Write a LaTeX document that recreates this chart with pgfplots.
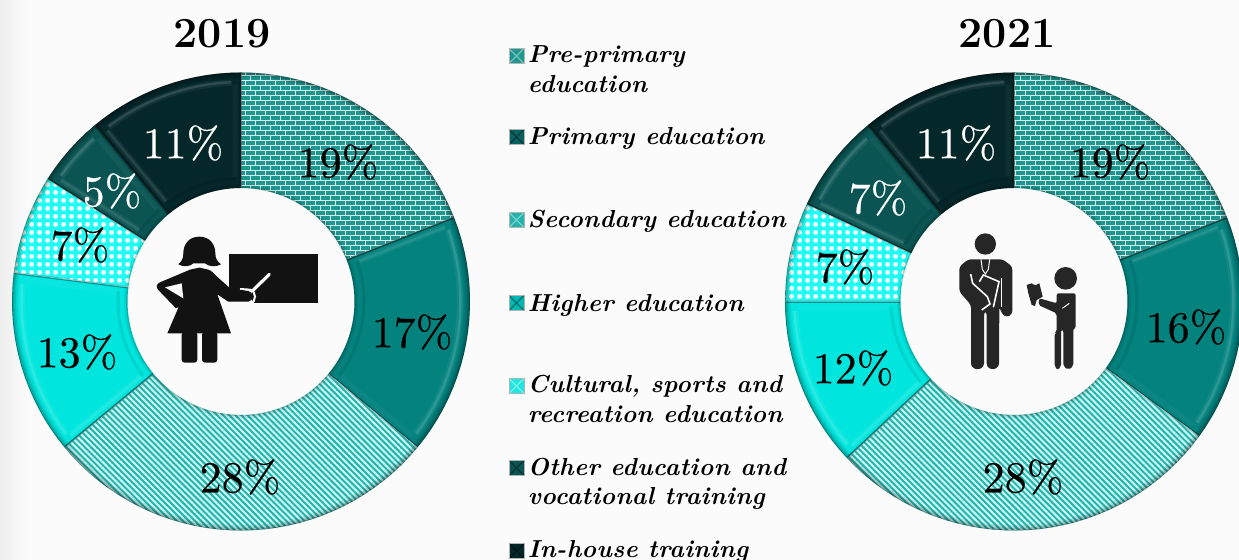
\documentclass[border=0pt]{standalone}
\usepackage{fontspec}
\setmainfont{Latin Modern Roman}
\newfontface\pctfont{lmroman10-regular}[Extension=.otf,FakeBold=0.35]
\usepackage{pgfplots}
\usepackage{pgfplotstable}
\pgfplotsset{compat=1.18}
\usetikzlibrary{patterns,patterns.meta}

\definecolor{bgc}{HTML}{FBFBFB}
\definecolor{cA}{HTML}{1F9690}
\definecolor{cB}{HTML}{03827E}
\definecolor{cC}{HTML}{22B3AC}
\definecolor{cD}{HTML}{00E6DE}
\definecolor{cE}{HTML}{1FFFF6}
\definecolor{cF}{HTML}{0A5553}
\definecolor{cG}{HTML}{04272A}
\definecolor{mort}{HTML}{D0F2EF}
\definecolor{strp}{HTML}{C8F7F4}

\pgfdeclarepatternformonly{brk}{\pgfqpoint{-0.3pt}{-0.3pt}}{\pgfqpoint{5.3pt}{5.3pt}}{\pgfqpoint{5pt}{5pt}}{%
  \pgfsetlinewidth{0.48pt}%
  \pgfpathmoveto{\pgfqpoint{0pt}{0pt}}\pgfpathlineto{\pgfqpoint{5pt}{0pt}}%
  \pgfpathmoveto{\pgfqpoint{0pt}{2.5pt}}\pgfpathlineto{\pgfqpoint{5pt}{2.5pt}}%
  \pgfpathmoveto{\pgfqpoint{0pt}{0pt}}\pgfpathlineto{\pgfqpoint{0pt}{2.5pt}}%
  \pgfpathmoveto{\pgfqpoint{2.5pt}{2.5pt}}\pgfpathlineto{\pgfqpoint{2.5pt}{5pt}}%
  \pgfusepath{stroke}}

\pgfplotsset{
  base0/.style={fill=cA,draw=none},
  base1/.style={fill=cB,draw=none},
  base2/.style={fill=cC,draw=none},
  base3/.style={fill=cD,draw=none},
  base4/.style={fill=cE,draw=none},
  base5/.style={fill=cF,draw=none},
  base6/.style={fill=cG,draw=none},
  pat0/.style={draw=none,pattern=brk,pattern color=mort},
  pat2/.style={draw=none,pattern={Lines[angle=-45,distance=2.15pt,line width=1.05pt]},pattern color=strp},
  pat4/.style={draw=none,pattern={Dots[radius=1.35pt,distance=4pt]},pattern color=white},
}

% shares per year, in per cent, clockwise from twelve o'clock
\pgfplotstableread{
share
19
17
28
13
7
5
11
}\tableA
\pgfplotstableread{
share
19
16
28
12
7
7
11
}\tableB

\def\Rout{229}
\def\Rin{113.5}

\newcommand\arcpts[3]{%
  \pgfmathsetmacro\stepN{int(max(3,ceil(abs(#2-#1)/3)))}%
  \foreach \k in {0,...,\stepN}{%
    \pgfmathsetmacro\ang{#1+(#2-#1)*\k/\stepN}%
    \xdef\coords{\coords (\ang,#3)}}}
\newcommand\ringfill[3]{% a1 a2 options
  \gdef\coords{}\arcpts{#1}{#2}{\Rout}\arcpts{#2}{#1}{\Rin}%
  \edef\tmp{\noexpand\addplot[data cs=polar,#3] coordinates {\coords} --cycle;}\tmp}
\newcommand\arcline[4]{% a1 a2 r options
  \gdef\coords{}\arcpts{#1}{#2}{#3}%
  \edef\tmp{\noexpand\addplot[data cs=polar,#4] coordinates {\coords};}\tmp}
\newcommand\radial[5]{% a d r1 r2 options; d is the signed inset in px
  \pgfmathsetmacro\aa{#1+deg(#2/#3)}\pgfmathsetmacro\ab{#1+deg(#2/#4)}%
  \edef\tmp{\noexpand\addplot[data cs=polar,#5] coordinates {(\aa,#3) (\ab,#4)};}\tmp}

\newcommand\rimdark[2]{%
  \arcline{#1}{#2}{228.6}{draw=black,opacity=.42,line width=.45pt}%
  \arcline{#1}{#2}{227.4}{draw=black,opacity=.24,line width=.7pt}%
  \arcline{#1}{#2}{226}{draw=black,opacity=.14,line width=.8pt}%
  \arcline{#1}{#2}{224.4}{draw=black,opacity=.07,line width=1pt}%
  \arcline{#1}{#2}{114.2}{draw=black,opacity=.2,line width=.7pt}%
  \arcline{#1}{#2}{116}{draw=black,opacity=.08,line width=1pt}}
\newcommand\bevelsolid[2]{%
  \pgfmathsetmacro\hA{#1-2.5}\pgfmathsetmacro\hB{#2+2.5}%
  \arcline{\hA}{\hB}{219}{draw=white,opacity=.06,line width=3pt}%
  \arcline{\hA}{\hB}{219.5}{draw=white,opacity=.12,line width=1.2pt}%
  \radial{#1}{-6}{125}{217}{draw=white,opacity=.05,line width=3pt}%
  \radial{#1}{-6}{125}{217}{draw=white,opacity=.09,line width=1.2pt}%
  \radial{#2}{6}{125}{217}{draw=white,opacity=.04,line width=2.5pt}%
  \radial{#1}{-.6}{114}{228}{draw=black,opacity=.45,line width=.7pt}%
  \radial{#2}{.6}{114}{228}{draw=black,opacity=.35,line width=.7pt}%
  \arcline{\hA}{\hB}{123}{draw=black,opacity=.08,line width=1.5pt}}

\newcommand\drawsegment[3]{% index a1 a2
  \ringfill{#2}{#3}{base#1}%
  \ifodd#1\relax\else\ifnum#1<6\relax\ringfill{#2}{#3}{pat#1}\fi\fi
  \rimdark{#2}{#3}%
  \ifodd#1\relax\bevelsolid{#2}{#3}\else
    \ifnum#1=6\relax\bevelsolid{#2}{#3}\else
      \radial{#2}{-.6}{114}{228}{draw=gray,opacity=.4,line width=.6pt}%
      \radial{#3}{.6}{114}{228}{draw=gray,opacity=.4,line width=.6pt}%
    \fi\fi}

\newcommand\donut[1]{%
  \gdef\cum{0}%
  \pgfplotsforeachungrouped \i in {0,...,6}{%
    \pgfplotstablegetelem{\i}{share}\of{#1}%
    \pgfmathsetmacro\nxt{\cum+\pgfplotsretval}%
    \pgfmathsetmacro\aS{90-3.6*\cum}%
    \pgfmathsetmacro\aE{90-3.6*\nxt}%
    \edef\doit{\noexpand\drawsegment{\i}{\aS}{\aE}}\doit
    \xdef\cum{\nxt}}}

\newcommand\pct[4][black]{\node[text=#1,font=\pctfont\fontsize{22}{24}\selectfont,inner sep=0pt] at (#2,#3) {#4\%};}
\newcommand\legm[3]{%
  \fill[#2] (509,#1-7.5) rectangle (524,#1+7.5);
  \draw[#3,opacity=.4,line width=.6pt] (509,#1-7.5) -- (524,#1+7.5) (509,#1+7.5) -- (524,#1-7.5);
  \draw[gray!60,line width=.3pt] (509,#1-7.5) rectangle (524,#1+7.5);}
\newcommand\legt[2]{\node[anchor=base west,inner sep=0pt,font=\fontsize{12.3}{14}\selectfont\bfseries\itshape\addfontfeature{LetterSpace=1.5}] at (527.5,#1) {#2};}

\begin{document}
\begin{tikzpicture}
\path[use as bounding box] (0,0) rectangle (619.5pt,280pt);
\fill[bgc] (0,0) rectangle (619.5pt,280pt);
\shade[left color=black!7,right color=bgc,shading angle=90,draw=none] (0,0) rectangle (13pt,280pt);

\begin{axis}[at={(0,0)},anchor=south west,scale only axis,width=619.5pt,height=280pt,
  xmin=-241,xmax=998,ymin=-258.5,ymax=301.5,hide axis]
\donut{\tableA}
\end{axis}
\begin{axis}[at={(0,0)},anchor=south west,scale only axis,width=619.5pt,height=280pt,
  xmin=-1014,xmax=225,ymin=-258.5,ymax=301.5,hide axis]
\donut{\tableB}
\end{axis}

\begin{scope}[shift={(0,280pt)},x=0.5pt,y=-0.5pt]
% titles
\node[anchor=base,inner sep=0pt,font=\fontsize{21.5}{24}\selectfont\bfseries] at (222,48) {2019};
\node[anchor=base,inner sep=0pt,font=\fontsize{21.5}{24}\selectfont\bfseries] at (1007,48) {2021};
% value labels 2019
\pct{338}{162}{19}
\pct{412}{332}{17}
\pct{240}{477}{28}
\pct{77}{352}{13}
\pct{80}{245}{7}
\pct[white]{112}{191}{5}
\pct[white]{183}{143}{11}
% value labels 2021
\pct{1110}{162}{19}
\pct{1186}{327}{16}
\pct{1023}{477}{28}
\pct{853}{368}{12}
\pct{845}{267}{7}
\pct[white]{878}{198}{7}
\pct[white]{956}{143}{11}
% legend
\legm{56}{cA}{white}
\legm{137}{cF!70!cB}{black}
\legm{220}{cC}{white}
\legm{303}{cD!80!black}{black}
\legm{386}{cE!70!cC}{white}
\legm{468}{cF}{black}
\legm{551}{cG}{black}
\legt{63}{Pre-primary}
\legt{93}{education}
\legt{145}{Primary education}
\legt{228}{Secondary education}
\legt{312}{Higher education}
\legt{393}{Cultural, sports and}
\legt{423}{recreation education}
\legt{476}{Other education and}
\legt{505}{vocational training}
\legt{558}{In-house training}

% teacher
\begin{scope}[shift={(140,225)},x=0.16667pt,y=-0.16667pt,black!93]
\fill (268,87) rectangle (535,235);
\fill[bgc] (262,196) rectangle (335,242);
\draw[bgc,line width=1.6pt,line cap=round] (340,195) -- (388,148);
\draw[bgc,line width=1pt] (300,192) -- (330,194) .. controls (350,198) and (350,232) .. (330,236);
\fill (178,35) .. controls (145,35) and (130,60) .. (130,85) .. controls (130,100) and (125,110) .. (115,118) .. controls (130,127) and (150,125) .. (160,115) -- (195,115) .. controls (205,125) and (228,127) .. (243,118) .. controls (232,110) and (226,100) .. (226,85) .. controls (226,60) and (211,35) .. (178,35) -- cycle;
\fill (178,128) -- (205,134) .. controls (216,138) and (222,145) .. (228,152) -- (270,190) -- (325,198) .. controls (342,200) and (342,228) .. (325,230) -- (265,230) -- (232,208) -- (273,325) -- (82,325) -- (116,246) -- (108,250) -- (55,195) .. controls (46,185) and (50,176) .. (60,172) -- (150,134) -- cycle;
\fill[bgc] (75,187) -- (125,175) -- (130,220) -- cycle;
\fill[rounded corners=1.5pt] (125,320) -- (172,320) -- (172,413) -- (125,413) -- cycle;
\fill[rounded corners=1.5pt] (186,320) -- (232,320) -- (232,413) -- (186,413) -- cycle;
\end{scope}

% man and child
\begin{scope}[shift={(900,200)},x=0.16667pt,y=-0.16667pt,black!85]
\fill (256,132) circle[radius=32];
\fill[rounded corners=1.5pt] (205,178) -- (308,178) -- (337,200) -- (337,342) -- (320,352) -- (306,342) -- (298,320) -- (297,500) -- (278,510) -- (260,500) -- (260,335) -- (252,335) -- (252,500) -- (232,510) -- (213,500) -- (213,315) -- (178,275) -- (178,200) -- cycle;
\draw[bgc,line width=.8pt] (212,222) -- (218,250) -- (262,290) -- (270,312) -- (245,330);
\draw[bgc,line width=.8pt] (238,245) -- (250,225) -- (297,245) -- (280,322);
\draw[bgc,line width=.5pt] (243,178) -- (247,208) -- (256,222) -- (265,208) -- (269,178);
\draw[bgc,line width=.5pt] (303,235) -- (303,322);
\fill (497,235) circle[radius=34];
\fill[rounded corners=1pt] (470,280) -- (527,280) -- (527,385) -- (520,385) -- (520,498) -- (505,510) -- (490,498) -- (490,390) -- (483,390) -- (483,500) -- (473,510) -- (464,500) -- (464,400) -- (470,395) -- (470,340) -- (415,315) -- (418,295) -- (470,310) -- cycle;
\fill (380,255) -- (395,250) -- (405,256) -- (418,250) -- (428,290) -- (410,300) -- (405,318) -- (395,315) -- (385,280) -- cycle;
\draw[bgc,line width=.5pt] (487,325) -- (508,310);
\end{scope}
\end{scope}
\end{tikzpicture}
\end{document}
